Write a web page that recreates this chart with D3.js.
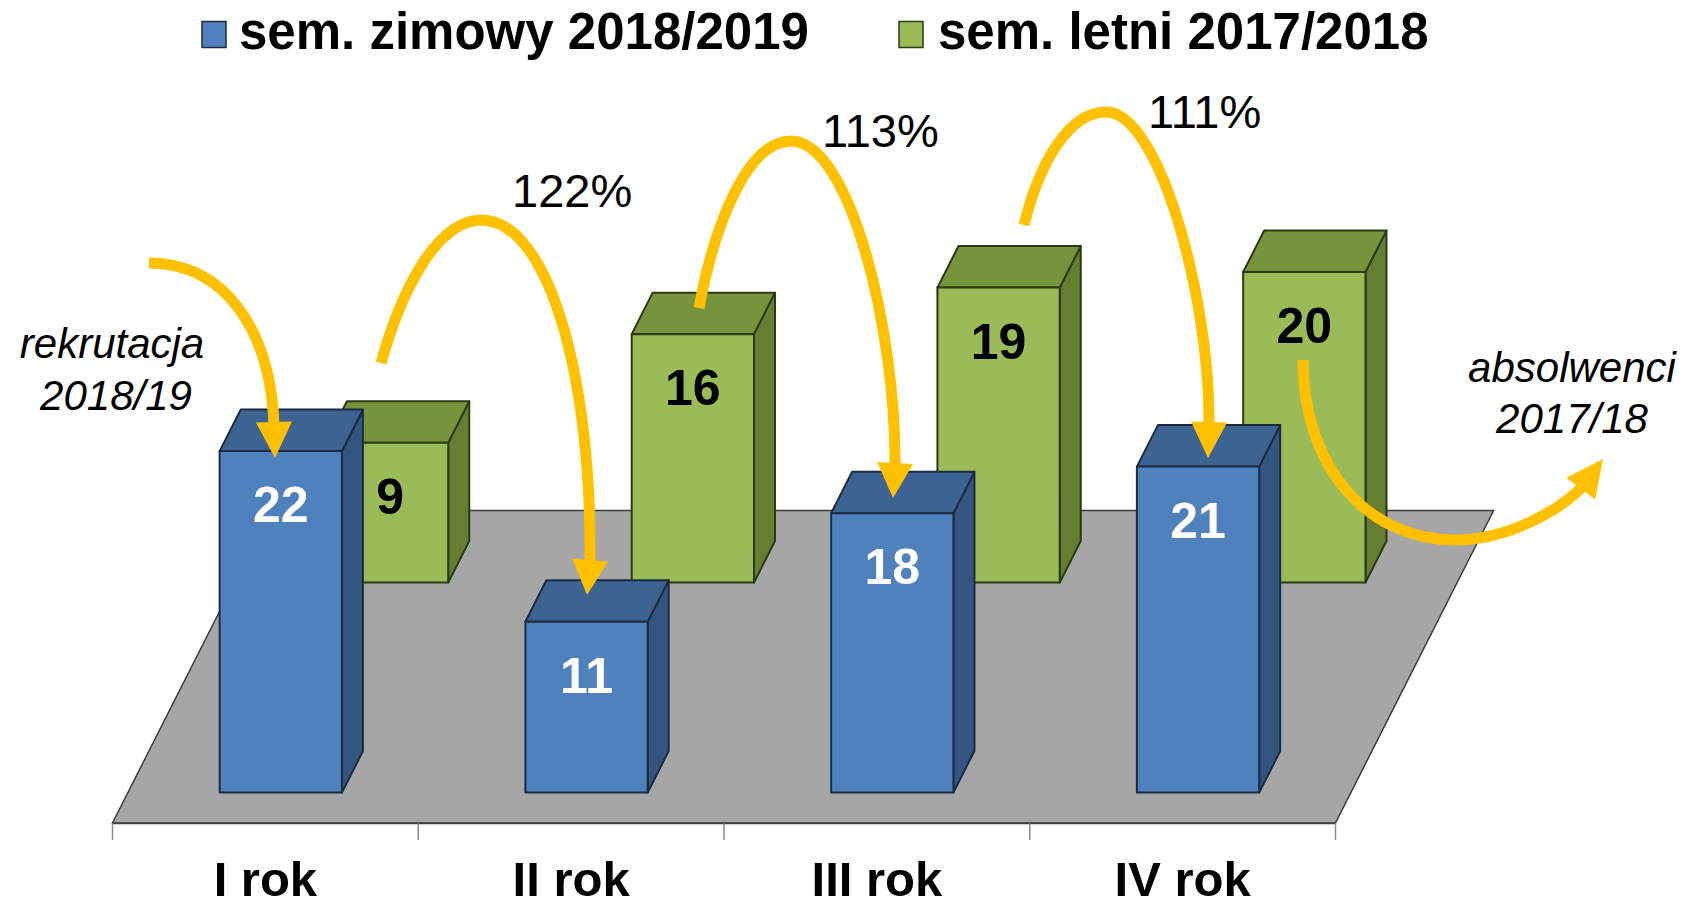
<!DOCTYPE html>
<html>
<head>
<meta charset="utf-8">
<script src="https://cdn.jsdelivr.net/npm/d3@7/dist/d3.min.js"></script>
<style>
  html, body { margin: 0; padding: 0; background: #ffffff; }
  svg { display: block; }
  text { font-family: "Liberation Sans", Arial, sans-serif; }
</style>
</head>
<body>
<svg id="chart" width="1687" height="907"></svg>
<script>
// ---------------- DATA ----------------
const categories = ["I rok", "II rok", "III rok", "IV rok"];
const seriesNames = ["sem. zimowy 2018/2019", "sem. letni 2017/2018"];
const winterValues = [22, 11, 18, 21];   // sem. zimowy 2018/2019 (front row, blue)
const summerValues = [9, 16, 19, 20];    // sem. letni 2017/2018 (back row, green)
const growthLabels = ["122%", "113%", "111%"];
const recruitLines = ["rekrutacja", "2018/19"];
const graduateLines = ["absolwenci", "2017/18"];

// ---------------- LAYOUT ----------------
const BASE_Y = 823;           // front edge of the floor
const KX = 0.506;             // oblique projection: x shift per unit of depth
const FLOOR_DEPTH = 312.5;
const PX_PER_UNIT = 15.52;

const svg = d3.select("#chart");

const x = d3.scaleBand().domain(categories).range([112.5, 1335.5]).paddingInner(0).paddingOuter(0);
const z = d3.scaleBand().domain(seriesNames).range([0, FLOOR_DEPTH]).paddingInner(0.8024).paddingOuter(0.145);
const y = d3.scaleLinear().domain([0, 25]).range([0, 25 * PX_PER_UNIT]);

const pt = (px, h, d) => [px + KX * d, BASE_Y - h - d];
const poly = pts => "M" + pts.map(p => p[0].toFixed(2) + "," + p[1].toFixed(2)).join("L") + "Z";

const styles = {
  [seriesNames[0]]: { front: "#4F81BD", top: "#3D6392", side: "#34557F", stroke: "#1C2B42", label: "#ffffff" },
  [seriesNames[1]]: { front: "#9BBB59", top: "#77933C", side: "#657E31", stroke: "#2B3A12", label: "#000000" }
};

// ---------------- FLOOR ----------------
const fx0 = x.range()[0], fx1 = x.range()[1];
svg.append("path")
  .attr("d", poly([pt(fx0, 0, 0), pt(fx1, 0, 0), pt(fx1, 0, FLOOR_DEPTH), pt(fx0, 0, FLOOR_DEPTH)]))
  .attr("fill", "#A6A6A6")
  .attr("stroke", "#3C3C3C")
  .attr("stroke-width", 1.5);

// category axis line + ticks
const axisG = svg.append("g");
axisG.append("line")
  .attr("x1", fx0).attr("x2", fx1)
  .attr("y1", BASE_Y + 0.5).attr("y2", BASE_Y + 0.5)
  .attr("stroke", "#404040").attr("stroke-width", 1.5);
const tickXs = categories.map(c => x(c)).concat([fx1]);
axisG.selectAll("line.tick").data(tickXs).enter().append("line")
  .attr("class", "tick")
  .attr("x1", d => d).attr("x2", d => d)
  .attr("y1", BASE_Y + 0.5).attr("y2", BASE_Y + 17)
  .attr("stroke", "#8C8C8C").attr("stroke-width", 1.5);
axisG.selectAll("text").data(categories).enter().append("text")
  .attr("x", d => x(d) + x.bandwidth() / 2)
  .attr("y", 896)
  .attr("text-anchor", "middle")
  .attr("font-size", 49)
  .attr("font-weight", "bold")
  .attr("fill", "#000")
  .text(d => d);

// ---------------- BARS ----------------
function drawSeries(name, values) {
  const st = styles[name];
  const z0 = z(name), z1 = z0 + z.bandwidth();
  const bw = x.bandwidth() * 0.4;
  const g = svg.append("g");
  categories.forEach((c, i) => {
    const x0 = x(c) + x.bandwidth() * 0.3, x1 = x0 + bw;
    const h = y(values[i]);
    const bar = g.append("g");
    bar.append("path")
      .attr("d", poly([pt(x1, 0, z0), pt(x1, 0, z1), pt(x1, h, z1), pt(x1, h, z0)]))
      .attr("fill", st.side).attr("stroke", st.stroke).attr("stroke-width", 2).attr("stroke-linejoin", "round");
    bar.append("path")
      .attr("d", poly([pt(x0, h, z0), pt(x1, h, z0), pt(x1, h, z1), pt(x0, h, z1)]))
      .attr("fill", st.top).attr("stroke", st.stroke).attr("stroke-width", 2).attr("stroke-linejoin", "round");
    bar.append("path")
      .attr("d", poly([pt(x0, 0, z0), pt(x1, 0, z0), pt(x1, h, z0), pt(x0, h, z0)]))
      .attr("fill", st.front).attr("stroke", st.stroke).attr("stroke-width", 2).attr("stroke-linejoin", "round");
    const topFront = pt((x0 + x1) / 2, h, z0);
    bar.append("text")
      .attr("x", topFront[0] + (i === 0 && name === seriesNames[1] ? 3 : 0))
      .attr("y", topFront[1] + 71)
      .attr("text-anchor", "middle")
      .attr("font-size", 50)
      .attr("font-weight", "bold")
      .attr("fill", st.label)
      .text(values[i]);
  });
}
drawSeries(seriesNames[1], summerValues);
drawSeries(seriesNames[0], winterValues);

// ---------------- LEGEND ----------------
const legendItems = [
  { name: seriesNames[0], sx: 202, tx: 239 },
  { name: seriesNames[1], sx: 899, tx: 938 }
];
const lg = svg.append("g");
legendItems.forEach(it => {
  lg.append("rect")
    .attr("x", it.sx).attr("y", 21.5).attr("width", 24).attr("height", 26)
    .attr("fill", styles[it.name].front)
    .attr("stroke", styles[it.name].stroke).attr("stroke-width", 1.5);
  lg.append("text")
    .attr("x", it.tx).attr("y", 49)
    .attr("font-size", 51).attr("font-weight", "bold").attr("fill", "#000")
    .text(it.name);
});

// ---------------- ANNOTATION ARROWS ----------------
const GOLD = "#FFC000";
const arrows = [
  { start: [149, 263], segs: [[[225, 263], [270, 330], [274, 424]]], tip: [275, 458] },
  { start: [381, 363], segs: [[[400, 295], [435, 220], [482, 220]], [[550, 222], [592, 380], [590, 562]]], tip: [587, 595] },
  { start: [699, 308], segs: [[[715, 222], [748, 141], [791, 141]], [[850, 141], [896, 330], [895, 465]]], tip: [893, 498] },
  { start: [1024, 225], segs: [[[1040, 160], [1070, 112], [1106, 112]], [[1160, 112], [1210, 300], [1209, 424]]], tip: [1208, 458] },
  { start: [1303, 360], segs: [[[1303, 470], [1370, 540], [1455, 540]], [[1510, 540], [1562, 508], [1582, 487]]], tip: [1603, 459] }
];
const ag = svg.append("g");
arrows.forEach(a => {
  const p = d3.path();
  p.moveTo(a.start[0], a.start[1]);
  a.segs.forEach(s => p.bezierCurveTo(s[0][0], s[0][1], s[1][0], s[1][1], s[2][0], s[2][1]));
  ag.append("path")
    .attr("d", p.toString())
    .attr("fill", "none")
    .attr("stroke", GOLD)
    .attr("stroke-width", 11)
    .attr("stroke-linecap", "butt");
  const b = a.segs[a.segs.length - 1][2];
  const dx = a.tip[0] - b[0], dy = a.tip[1] - b[1];
  const len = Math.hypot(dx, dy);
  const nx = -dy / len, ny = dx / len;
  const half = 18;
  const bb = [b[0] - dx / len * 2, b[1] - dy / len * 2];
  ag.append("path")
    .attr("d", poly([[bb[0] + nx * half, bb[1] + ny * half], a.tip, [bb[0] - nx * half, bb[1] - ny * half]]))
    .attr("fill", GOLD);
});

// ---------------- ANNOTATION TEXT ----------------
const pctPos = [[512, 207], [822, 147], [1148, 128]];
svg.append("g").selectAll("text").data(growthLabels).enter().append("text")
  .attr("x", (d, i) => pctPos[i][0])
  .attr("y", (d, i) => pctPos[i][1])
  .attr("font-size", 47)
  .attr("fill", "#000")
  .text(d => d);

const noteG = svg.append("g");
recruitLines.forEach((t, i) => {
  noteG.append("text")
    .attr("x", i === 0 ? 112 : 116).attr("y", 358 + i * 52)
    .attr("text-anchor", "middle")
    .attr("font-size", 42).attr("font-style", "italic").attr("fill", "#000")
    .text(t);
});
graduateLines.forEach((t, i) => {
  noteG.append("text")
    .attr("x", 1572).attr("y", 382 + i * 51)
    .attr("text-anchor", "middle")
    .attr("font-size", 42).attr("font-style", "italic").attr("fill", "#000")
    .text(t);
});
</script>
</body>
</html>
